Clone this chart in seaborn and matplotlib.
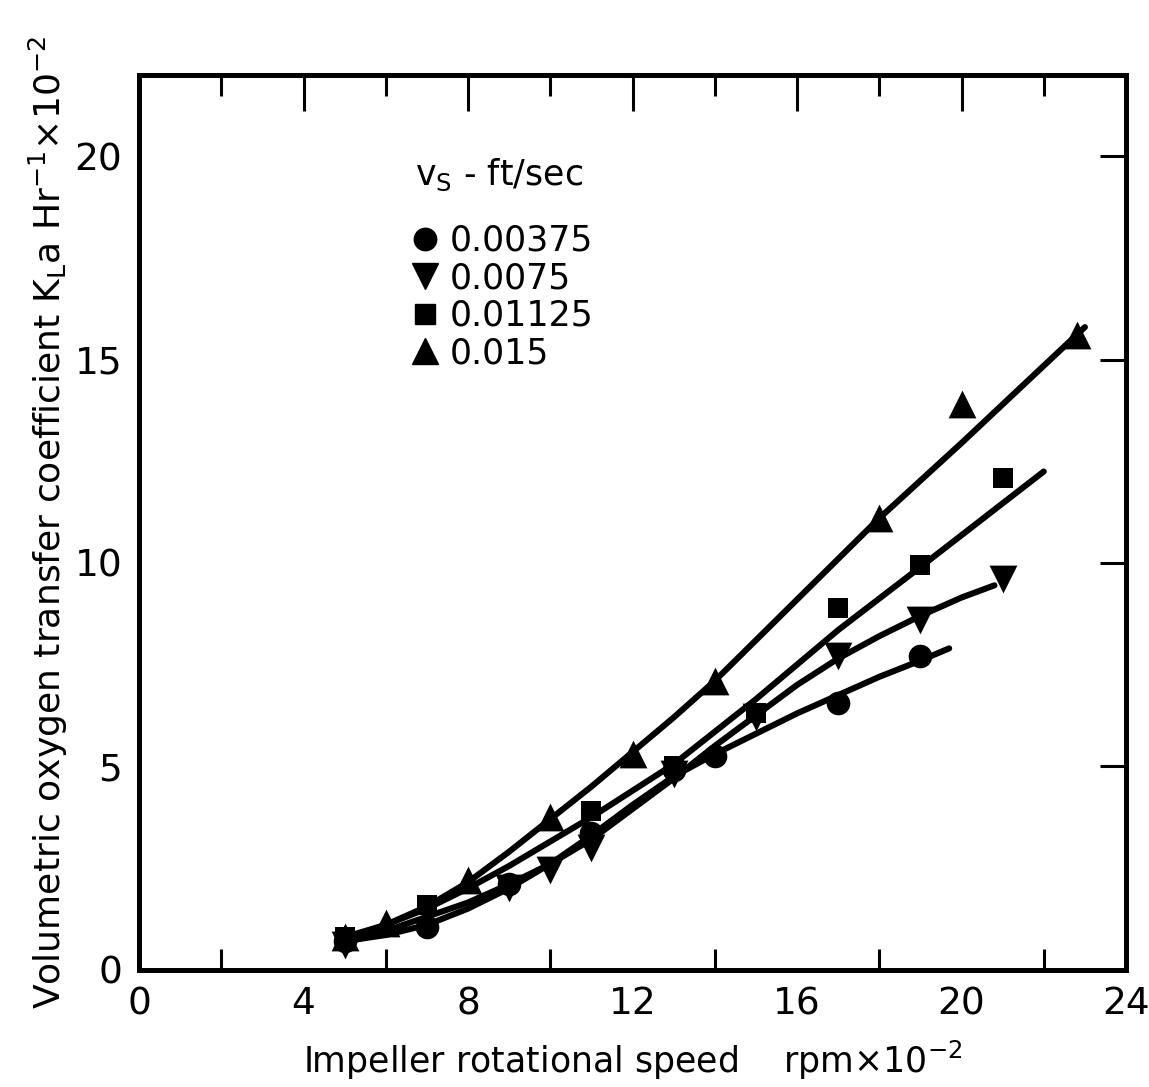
import matplotlib
matplotlib.use("Agg")
import matplotlib.pyplot as plt
from matplotlib.lines import Line2D
import seaborn as sns

# Superficial gas velocity series (ft/sec)
series_labels = ["0.00375", "0.0075", "0.01125", "0.015"]
series_markers = ["o", "v", "s", "^"]

# Measured points: impeller speed (rpm x 10^-2) vs KLa (Hr^-1 x 10^-2)
x_0375 = [5, 7, 9, 11, 13, 14, 17, 19]
y_0375 = [0.7, 1.05, 2.1, 3.35, 4.9, 5.25, 6.55, 7.7]

x_075 = [5, 9, 10, 11, 13, 15, 17, 19, 21]
y_075 = [0.6, 2.0, 2.45, 3.0, 4.8, 6.2, 7.7, 8.6, 9.6]

x_1125 = [5, 7, 11, 13, 15, 17, 19, 21]
y_1125 = [0.8, 1.6, 3.9, 5.0, 6.3, 8.9, 9.95, 12.1]

x_15 = [5, 6, 8, 10, 12, 14, 18, 20, 22.8]
y_15 = [0.8, 1.15, 2.2, 3.75, 5.3, 7.1, 11.1, 13.9, 15.6]

# Hand-faired correlation curves for each series
cx_0375 = [5, 6, 7, 8, 9, 10, 11, 12, 13, 14, 15, 16, 17, 18, 19, 19.7]
cy_0375 = [0.7, 0.85, 1.1, 1.5, 2.0, 2.6, 3.3, 4.05, 4.75, 5.3, 5.8, 6.3, 6.75, 7.2, 7.6, 7.9]

cx_075 = [5, 6, 7, 8, 9, 10, 11, 12, 13, 14, 15, 16, 17, 18, 19, 20, 20.8]
cy_075 = [0.65, 0.95, 1.3, 1.65, 2.1, 2.6, 3.2, 3.95, 4.7, 5.5, 6.25, 7.0, 7.65, 8.2, 8.7, 9.15, 9.45]

cx_1125 = [5, 6, 7, 8, 9, 10, 11, 12, 13, 15, 17, 19, 22]
cy_1125 = [0.8, 1.1, 1.5, 2.0, 2.55, 3.15, 3.75, 4.4, 5.05, 6.65, 8.35, 9.9, 12.25]

cx_15 = [5, 6, 7, 8, 9, 10, 11, 12, 13, 14, 16, 18, 20, 23]
cy_15 = [0.75, 1.1, 1.55, 2.15, 2.9, 3.7, 4.5, 5.35, 6.2, 7.1, 9.1, 11.1, 12.95, 15.8]

x_ticks = [0, 4, 8, 12, 16, 20, 24]
y_ticks = [0, 5, 10, 15, 20]

points = [(x_0375, y_0375), (x_075, y_075), (x_1125, y_1125), (x_15, y_15)]
curves = [(cx_0375, cy_0375), (cx_075, cy_075), (cx_1125, cy_1125), (cx_15, cy_15)]
marker_sizes = [17, 20, 15, 20]

sns.set_theme(style="white")
plt.rcParams["font.family"] = ["DejaVu Sans"]
plt.rcParams["text.color"] = "black"
plt.rcParams["axes.labelcolor"] = "black"

fig = plt.figure(figsize=(11.49, 10.87), dpi=100)
ax = fig.add_axes([0.121, 0.108, 0.859, 0.823])

for (cx, cy) in curves:
    sns.lineplot(x=cx, y=cy, ax=ax, color="black", linewidth=4.4,
                 sort=False, estimator=None)

for (px, py), mk, ms in zip(points, series_markers, marker_sizes):
    sns.scatterplot(x=px, y=py, ax=ax, marker=mk, s=ms ** 2,
                    color="black", edgecolor="black", linewidth=0, zorder=5)

ax.set_xlim(0, 24)
ax.set_ylim(0, 22)
ax.set_xticks(x_ticks)
ax.set_xticks([2, 6, 10, 14, 18, 22], minor=True)
ax.set_yticks(y_ticks)
ax.set_xticklabels([str(t) for t in x_ticks])
ax.set_yticklabels([str(t) for t in y_ticks])

ax.tick_params(axis="both", which="major", direction="in", length=26, width=2.2,
               labelsize=27, top=True, right=True, color="black", labelcolor="black")
ax.tick_params(axis="x", which="major", pad=12)
ax.tick_params(axis="y", which="major", length=19, pad=12)
ax.tick_params(axis="x", which="minor", direction="in", length=15, width=2.2,
               top=True, bottom=True, color="black")

for sp in ax.spines.values():
    sp.set_visible(True)
    sp.set_color("black")
    sp.set_linewidth(3.6)

ax.set_xlabel(r"Impeller rotational speed    rpm$\times$10$^{-2}$",
              fontsize=25, labelpad=12, color="black")
ax.set_ylabel(r"Volumetric oxygen transfer coefficient K$_\mathrm{L}$a Hr$^{-1}$$\times$10$^{-2}$",
              fontsize=26, labelpad=3, color="black")

# Legend heading and entries
ax.text(0.365, 0.888, r"v$_\mathrm{S}$ - ft/sec", transform=ax.transAxes,
        ha="center", va="center", fontsize=25, color="black")
handles = [Line2D([0], [0], marker=mk, linestyle="none", color="black",
                  markersize=ms * 0.95)
           for mk, ms in zip(series_markers, marker_sizes)]
leg = ax.legend(handles, series_labels,
                loc="upper left", bbox_to_anchor=(0.255, 0.853),
                frameon=False, fontsize=25,
                handletextpad=0.2, labelspacing=0.1, handlelength=1.0,
                borderpad=0)
for t in leg.get_texts():
    t.set_color("black")

fig.savefig("out.png", dpi=100, facecolor="white")
